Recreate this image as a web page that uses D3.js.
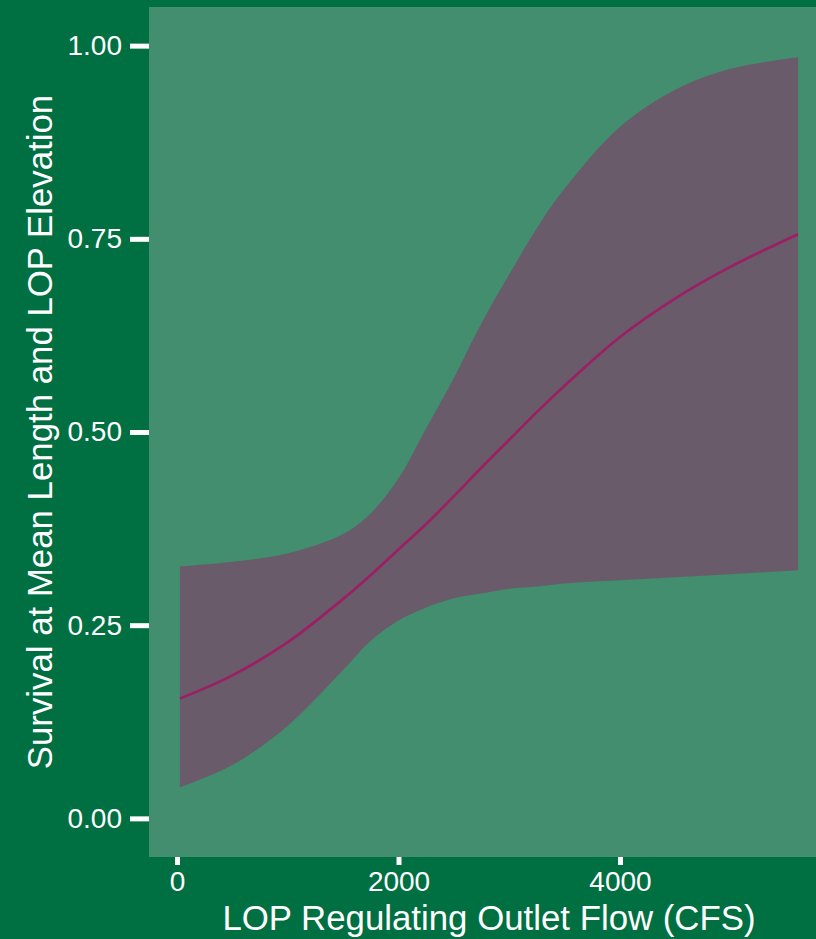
<!DOCTYPE html>
<html>
<head>
<meta charset="utf-8">
<script src="https://cdn.jsdelivr.net/npm/d3@7"></script>
<style>
  body { margin: 0; background: #006F41; }
  svg { display: block; }
  text { font-family: "Liberation Sans", Arial, sans-serif; fill: #ffffff; }
</style>
</head>
<body>
<div id="chart"></div>
<script>
// flow (CFS) and predicted survival with its confidence band
var flow  = [26, 500, 1000, 1500, 1750, 2000, 2250, 2500, 2750, 3000, 3250, 3500, 4000, 4500, 5000, 5608];
var fit   = [0.155, 0.185, 0.228, 0.284, 0.315, 0.348, 0.381, 0.417, 0.454, 0.490, 0.526, 0.560, 0.623, 0.673, 0.714, 0.756];
var lower = [0.040, 0.069, 0.120, 0.192, 0.230, 0.256, 0.273, 0.285, 0.291, 0.297, 0.300, 0.304, 0.308, 0.312, 0.316, 0.321];
var upper = [0.326, 0.332, 0.343, 0.368, 0.395, 0.440, 0.505, 0.570, 0.641, 0.704, 0.764, 0.815, 0.895, 0.943, 0.970, 0.985];
var xTicks = [0, 2000, 4000];
var yTicks = [0, 0.25, 0.5, 0.75, 1];

var width = 816, height = 939;
var panel = { left: 149, right: 829, top: 7, bottom: 857 };

var svg = d3.select("#chart").append("svg")
  .attr("width", width)
  .attr("height", height);

svg.append("rect")
  .attr("width", width).attr("height", height)
  .attr("fill", "#006F41");

// ggplot style 5% expansion
var xr = d3.extent(flow), xpad = (xr[1] - xr[0]) * 0.05;
var x = d3.scaleLinear()
  .domain([xr[0] - xpad, xr[1] + xpad])
  .range([panel.left, panel.right]);

var y = d3.scaleLinear()
  .domain([-0.05, 1.05])
  .range([panel.bottom, panel.top]);

svg.append("rect")
  .attr("x", panel.left).attr("y", panel.top)
  .attr("width", panel.right - panel.left)
  .attr("height", panel.bottom - panel.top)
  .attr("fill", "#428E6E");

var rows = flow.map(function (f, i) {
  return { flow: f, fit: fit[i], lo: lower[i], hi: upper[i] };
});

var band = d3.area()
  .x(function (d) { return x(d.flow); })
  .y0(function (d) { return y(d.lo); })
  .y1(function (d) { return y(d.hi); })
  .curve(d3.curveCatmullRom.alpha(0.5));

svg.append("path")
  .datum(rows)
  .attr("d", band)
  .attr("fill", "#6A5B6B");

var line = d3.line()
  .x(function (d) { return x(d.flow); })
  .y(function (d) { return y(d.fit); })
  .curve(d3.curveCatmullRom.alpha(0.5));

svg.append("path")
  .datum(rows)
  .attr("d", line)
  .attr("fill", "none")
  .attr("stroke", "#9B1F64")
  .attr("stroke-width", 2.7);

// axes
var yAxis = svg.append("g")
  .attr("transform", "translate(" + panel.left + ",0)")
  .call(d3.axisLeft(y).tickValues(yTicks).tickFormat(d3.format(".2f"))
    .tickSize(19).tickPadding(8));
yAxis.select(".domain").remove();
yAxis.selectAll(".tick line").attr("stroke", "#ffffff").attr("stroke-width", 5);
yAxis.selectAll(".tick text")
  .style("font-size", "28px")
  .style("font-family", "Liberation Sans, Arial, sans-serif")
  .attr("fill", "#ffffff");

var xAxis = svg.append("g")
  .attr("transform", "translate(0," + panel.bottom + ")")
  .call(d3.axisBottom(x).tickValues(xTicks).tickFormat(d3.format("d"))
    .tickSize(8).tickPadding(6));
xAxis.select(".domain").remove();
xAxis.selectAll(".tick line").attr("stroke", "#ffffff").attr("stroke-width", 5);
xAxis.selectAll(".tick text")
  .style("font-size", "28px")
  .style("font-family", "Liberation Sans, Arial, sans-serif")
  .attr("fill", "#ffffff");

svg.append("text")
  .attr("x", (panel.left + panel.right) / 2)
  .attr("y", 930)
  .attr("text-anchor", "middle")
  .style("font-size", "34.8px")
  .text("LOP Regulating Outlet Flow (CFS)");

svg.append("text")
  .attr("transform", "translate(52," + (panel.top + panel.bottom) / 2 + ") rotate(-90)")
  .attr("text-anchor", "middle")
  .style("font-size", "34.8px")
  .text("Survival at Mean Length and LOP Elevation");
</script>
</body>
</html>
